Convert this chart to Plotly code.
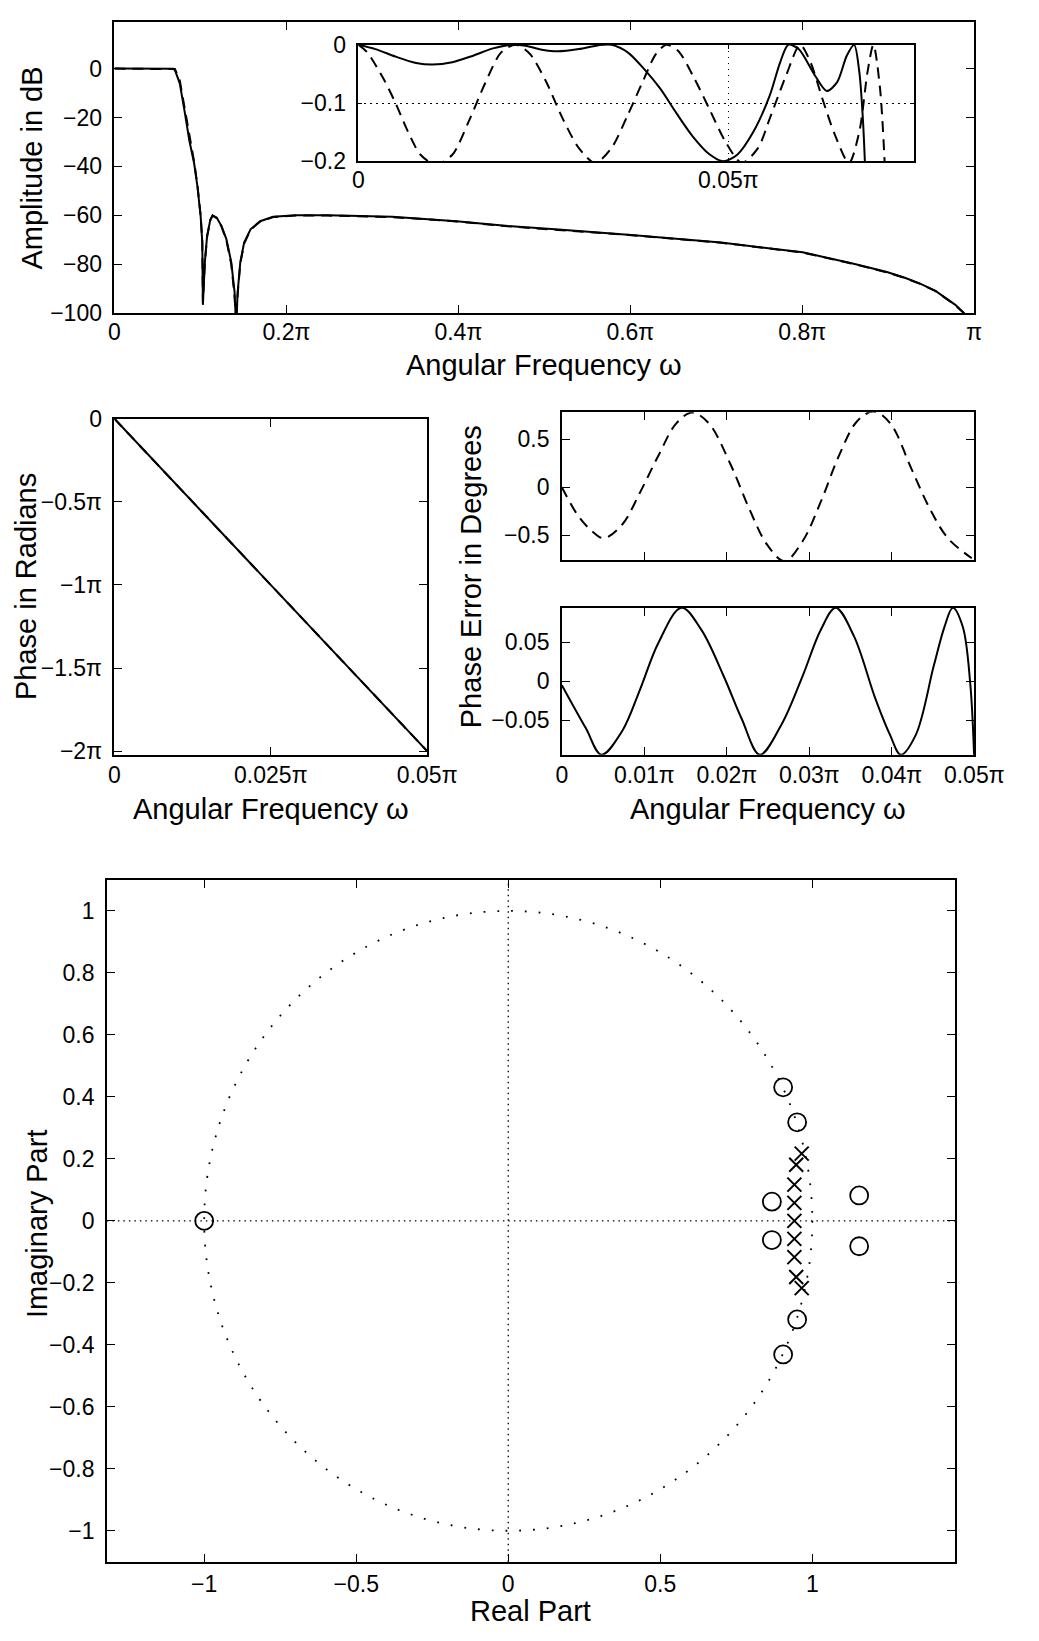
import plotly.graph_objects as go

W, H = 1039, 1641
FONT = "Liberation Sans, Arial, Helvetica, sans-serif"

# ---------------- data ----------------
# Magnitude response (omega in units of pi, amplitude in dB)
w_mag = [0, 0.02, 0.04, 0.06, 0.0685, 0.0704, 0.076, 0.0816, 0.0872, 0.0928, 0.0966,
         0.1003, 0.1022, 0.1029, 0.1052, 0.1078, 0.1116, 0.1142, 0.119, 0.1246, 0.1302,
         0.1359, 0.1397, 0.1415, 0.1434, 0.1464, 0.1509, 0.1583, 0.1695, 0.1846, 0.2107,
         0.2481, 0.323, 0.3979, 0.4577, 0.5125, 0.6012, 0.7054, 0.8004, 0.8598, 0.8984,
         0.92, 0.937, 0.955, 0.9679, 0.978, 0.988, 0.993]
mag_solid = [0, 0, 0, 0, -0.1, -0.6, -6.0, -17.4, -29.5, -38.9, -48.3,
             -60.4, -71.1, -96.6, -79.1, -68.4, -61.7, -60.0, -61.0, -64.4, -69.7,
             -79.1, -91.2, -105, -91.2, -79.1, -71.1, -65.7, -62.4, -60.6, -60.0,
             -60.0, -60.6, -62.4, -64.4, -65.7, -68.0, -71.1, -75.1, -79.8, -83.2,
             -85.6, -87.9, -90.9, -93.9, -96.6, -99.9, -106]
mag_dashed = [0, 0, 0, 0, 0, -0.2, -4.8, -16.0, -28.5, -38.2, -47.8,
              -60.0, -70.5, -95.5, -79.5, -68.8, -61.9, -60.1, -61.1, -64.6, -70.2,
              -80.0, -93.0, -104, -92.0, -79.8, -71.5, -65.9, -62.5, -60.7, -60.1,
              -60.1, -60.7, -62.5, -64.5, -65.8, -68.1, -71.2, -75.2, -79.9, -83.3,
              -85.7, -88.0, -91.0, -94.0, -96.7, -100.0, -106]

# Passband detail (inset)
w_in_solid = [0, 0.0023, 0.00505, 0.0078, 0.0100, 0.0127, 0.0155, 0.0182, 0.0207, 0.0226,
              0.0248, 0.0270, 0.0298, 0.0325, 0.0342, 0.0364, 0.0386, 0.0408, 0.0430, 0.0452,
              0.0474, 0.0493, 0.0512, 0.0534, 0.0556, 0.0570, 0.0581, 0.0595, 0.0617, 0.0633,
              0.0647, 0.0660, 0.0670, 0.0677, 0.0682, 0.0686]
in_solid = [0, -0.0074, -0.0204, -0.0312, -0.034, -0.030, -0.0187, -0.0062, 0, -0.0017,
            -0.0085, -0.0113, -0.0074, -0.0006, 0, -0.013, -0.0414, -0.0754, -0.1178, -0.1575,
            -0.1875, -0.200, -0.1887, -0.149, -0.0867, -0.030, 0, -0.0074, -0.0527, -0.0793,
            -0.064, -0.0187, 0, -0.047, -0.132, -0.25]
w_in_dashed = [0, 0.0012, 0.0034, 0.00505, 0.0067, 0.0084, 0.0105, 0.0127, 0.0149, 0.0171,
               0.0193, 0.0213, 0.0232, 0.0254, 0.0276, 0.0298, 0.0320, 0.0342, 0.0364, 0.0386,
               0.0402, 0.0416, 0.0432, 0.0452, 0.0474, 0.0496, 0.0518, 0.0540, 0.0556, 0.0578,
               0.0597, 0.0611, 0.0627, 0.0644, 0.0663, 0.0677, 0.0688, 0.0696, 0.0705, 0.0713]
in_dashed = [0, -0.013, -0.0584, -0.1008, -0.149, -0.1887, -0.2057, -0.1887, -0.132, -0.0669,
             -0.013, 0, -0.0159, -0.064, -0.1263, -0.1773, -0.2028, -0.1773, -0.1207, -0.0584,
             -0.0159, 0, -0.0102, -0.0527, -0.1093, -0.166, -0.2028, -0.1773, -0.1263, -0.0527,
             0, -0.030, -0.0923, -0.1547, -0.2028, -0.149, -0.047, 0, -0.0754, -0.25]

# Phase (omega in units of pi, phase in units of pi)
w_phase = [0, 0.0125, 0.025, 0.0375, 0.05]
phase_solid = [0, -0.5, -1.0, -1.5, -2.0]
phase_dashed = [0, -0.5, -1.0, -1.5, -2.0]

# Phase error in degrees
w_pe_dashed = [0, 0.002, 0.0037, 0.0051, 0.0073, 0.0095, 0.0117, 0.0139, 0.0158, 0.0178,
               0.0205, 0.0227, 0.0249, 0.0270, 0.0292, 0.0314, 0.0336, 0.0358, 0.0378, 0.0398,
               0.0424, 0.0446, 0.0468, 0.0497]
pe_dashed = [0, -0.30, -0.46, -0.53, -0.39, -0.05, 0.33, 0.67, 0.78, 0.67,
             0.23, -0.22, -0.60, -0.77, -0.56, -0.15, 0.33, 0.69, 0.79, 0.67,
             0.19, -0.22, -0.53, -0.74]
w_pe_solid = [0, 0.0029, 0.0048, 0.0073, 0.0095, 0.0117, 0.0145, 0.0169, 0.0196, 0.0218,
              0.0240, 0.0266, 0.0292, 0.0314, 0.0332, 0.0354, 0.0380, 0.0398, 0.0411, 0.0429,
              0.0451, 0.0464, 0.0474, 0.0486, 0.0495, 0.0500]
pe_solid = [-0.005, -0.060, -0.094, -0.064, -0.010, 0.049, 0.094, 0.066, 0.007, -0.048,
            -0.094, -0.056, 0.007, 0.066, 0.094, 0.058, -0.022, -0.069, -0.094, -0.069,
            0.020, 0.070, 0.094, 0.070, -0.001, -0.10]

# Pole-zero plot
zeros_re = [-1.0, 0.904, 0.904, 0.950, 0.950, 0.867, 0.867, 1.154, 1.154]
zeros_im = [0.0, 0.431, -0.431, 0.318, -0.318, 0.062, -0.062, 0.082, -0.082]
poles_re = [0.965, 0.965, 0.947, 0.947, 0.941, 0.941, 0.941, 0.941, 0.941]
poles_im = [0.217, -0.217, 0.181, -0.181, 0.117, -0.117, 0.058, -0.058, 0.0]

# tick labels
mag_xt = [0, 0.2, 0.4, 0.6, 0.8, 1.0]
mag_xl = ["0", "0.2π", "0.4π", "0.6π", "0.8π", "π"]
mag_yt = [0, -20, -40, -60, -80, -100]
mag_yl = ["0", "−20", "−40", "−60", "−80", "−100"]
in_xt = [0, 0.05]
in_xl = ["0", "0.05π"]
in_yt = [0, -0.1, -0.2]
in_yl = ["0", "−0.1", "−0.2"]
ph_xt = [0, 0.025, 0.05]
ph_xl = ["0", "0.025π", "0.05π"]
ph_yt = [0, -0.5, -1, -1.5, -2]
ph_yl = ["0", "−0.5π", "−1π", "−1.5π", "−2π"]
pe_xt = [0, 0.01, 0.02, 0.03, 0.04, 0.05]
pe_xl = ["0", "0.01π", "0.02π", "0.03π", "0.04π", "0.05π"]
ped_yt = [0.5, 0, -0.5]
ped_yl = ["0.5", "0", "−0.5"]
pes_yt = [0.05, 0, -0.05]
pes_yl = ["0.05", "0", "−0.05"]
pz_xt = [-1, -0.5, 0, 0.5, 1]
pz_xl = ["−1", "−0.5", "0", "0.5", "1"]
pz_yt = [-1, -0.8, -0.6, -0.4, -0.2, 0, 0.2, 0.4, 0.6, 0.8, 1]
pz_yl = ["−1", "−0.8", "−0.6", "−0.4", "−0.2", "0", "0.2", "0.4", "0.6", "0.8", "1"]

# ---------------- helpers ----------------
def px(X):
    return X / W

def py(Y):
    return 1 - Y / H

TICKFONT = dict(family=FONT, size=23, color="black")
TITLEFONT = dict(family=FONT, size=29, color="black")
DASH = "11px,7px"

def ax(**kw):
    d = dict(showline=True, linecolor="black", linewidth=1.6, mirror="allticks",
             ticks="inside", ticklen=8, tickwidth=1.2, tickcolor="black",
             showgrid=False, zeroline=False, tickfont=TICKFONT, fixedrange=True)
    d.update(kw)
    return d

def line(style="solid", width=2):
    return dict(color="black", width=width, dash=DASH if style == "dash" else "solid")

fig = go.Figure()

# main magnitude
fig.add_trace(go.Scatter(x=w_mag, y=mag_dashed, mode="lines", line=line("dash"), xaxis="x", yaxis="y"))
fig.add_trace(go.Scatter(x=w_mag, y=mag_solid, mode="lines", line=line(), xaxis="x", yaxis="y"))
# inset
fig.add_trace(go.Scatter(x=w_in_dashed, y=in_dashed, mode="lines",
                         line=dict(color="black", width=2, dash=DASH, shape="spline", smoothing=0.8),
                         xaxis="x2", yaxis="y2"))
fig.add_trace(go.Scatter(x=w_in_solid, y=in_solid, mode="lines",
                         line=dict(color="black", width=2, shape="spline", smoothing=0.8),
                         xaxis="x2", yaxis="y2"))
# phase
fig.add_trace(go.Scatter(x=w_phase, y=phase_dashed, mode="lines", line=line("dash"), xaxis="x3", yaxis="y3"))
fig.add_trace(go.Scatter(x=w_phase, y=phase_solid, mode="lines", line=line(), xaxis="x3", yaxis="y3"))
# phase errors
fig.add_trace(go.Scatter(x=w_pe_dashed, y=pe_dashed, mode="lines",
                         line=dict(color="black", width=2, dash=DASH, shape="spline", smoothing=1.0),
                         xaxis="x4", yaxis="y4"))
fig.add_trace(go.Scatter(x=w_pe_solid, y=pe_solid, mode="lines",
                         line=dict(color="black", width=2, shape="spline", smoothing=1.0),
                         xaxis="x5", yaxis="y5"))
# pole-zero
fig.add_trace(go.Scatter(x=zeros_re, y=zeros_im, mode="markers",
                         marker=dict(symbol="circle-open", size=18, color="black", line=dict(width=1.8, color="black")),
                         xaxis="x6", yaxis="y6"))
fig.add_trace(go.Scatter(x=poles_re, y=poles_im, mode="markers",
                         marker=dict(symbol="x-thin-open", size=14, color="black", line=dict(width=2, color="black")),
                         xaxis="x6", yaxis="y6"))

DOT = "1.5px,4.5px"
layout = dict(
    width=W, height=H, margin=dict(l=0, r=0, t=0, b=0),
    paper_bgcolor="white", plot_bgcolor="white", showlegend=False,
    font=dict(family=FONT, color="black"),
    xaxis=ax(domain=[px(112.3), px(1003)], range=[0, 1], tickvals=mag_xt, ticktext=mag_xl,
             anchor="y", ticklabelstandoff=-3),
    yaxis=ax(domain=[py(305), py(9.3)], range=[-100, 19], tickvals=mag_yt, ticktext=mag_yl,
             anchor="x", ticklabelstandoff=6),
    xaxis2=ax(domain=[px(365), px(940.7)], range=[0, 0.0751], tickvals=in_xt, ticktext=in_xl,
              anchor="y2", ticklen=4, showgrid=True, gridcolor="black", gridwidth=1, griddash=DOT,
              ticklabelstandoff=-3),
    yaxis2=ax(domain=[py(150.7), py(32.3)], range=[-0.2, 0], tickvals=in_yt, ticktext=in_yl,
              anchor="x2", ticklen=4, showgrid=True, gridcolor="black", gridwidth=1, griddash=DOT,
              ticklabelstandoff=6),
    xaxis3=ax(domain=[px(112.3), px(436.3)], range=[0, 0.05], tickvals=ph_xt, ticktext=ph_xl,
              anchor="y3", ticklabelstandoff=-1),
    yaxis3=ax(domain=[py(753.7), py(412.3)], range=[-2.022, 0], tickvals=ph_yt, ticktext=ph_yl,
              anchor="x3", ticklabelstandoff=6),
    xaxis4=ax(domain=[px(575.8), px(1003)], range=[0, 0.05], tickvals=pe_xt, showticklabels=False,
              anchor="y4"),
    yaxis4=ax(domain=[py(556), py(405.7)], range=[-0.76, 0.783], tickvals=ped_yt, ticktext=ped_yl,
              anchor="x4", ticklabelstandoff=6),
    xaxis5=ax(domain=[px(575.8), px(1003)], range=[0, 0.05], tickvals=pe_xt, ticktext=pe_xl,
              anchor="y5", ticklabelstandoff=-1),
    yaxis5=ax(domain=[py(753.7), py(604.3)], range=[-0.0941, 0.0941], tickvals=pes_yt, ticktext=pes_yl,
              anchor="x5", ticklabelstandoff=6),
    xaxis6=ax(domain=[px(104.5), px(983)], range=[-1.32, 1.469], tickvals=pz_xt, ticktext=pz_xl,
              anchor="y6", ticklabelstandoff=1),
    yaxis6=ax(domain=[py(1573.7), py(880.9)], range=[-1.1, 1.1], tickvals=pz_yt, ticktext=pz_yl,
              anchor="x6", ticklabelstandoff=6),
)

shapes = [
    dict(type="circle", xref="x6", yref="y6", x0=-1, y0=-1, x1=1, y1=1,
         line=dict(color="black", width=1.8, dash="1.8px,12px")),
    dict(type="line", xref="x6", yref="y6 domain", x0=0, x1=0, y0=0, y1=1,
         line=dict(color="black", width=1.3, dash="1.5px,4px")),
    dict(type="line", xref="x6 domain", yref="y6", x0=0, x1=1, y0=0, y1=0,
         line=dict(color="black", width=1.3, dash="1.5px,4px")),
]

def title(text, X, Y, angle=0):
    return dict(text=text, x=px(X), y=py(Y), xref="paper", yref="paper",
                xanchor="center", yanchor="middle", showarrow=False,
                textangle=angle, font=TITLEFONT)

annotations = [
    title("Amplitude in dB", 27, 158, -90),
    title("Angular Frequency ω", 557.6, 358),
    title("Phase in Radians", 20, 583, -90),
    title("Angular Frequency ω", 274.3, 809),
    title("Phase Error in Degrees", 482, 573, -90),
    title("Angular Frequency ω", 789.4, 809),
    title("Imaginary Part", 31.7, 1230, -90),
    title("Real Part", 543.7, 1624),
]

layout["shapes"] = shapes
layout["annotations"] = annotations
fig.update_layout(**layout)

fig.write_html("out.html")
